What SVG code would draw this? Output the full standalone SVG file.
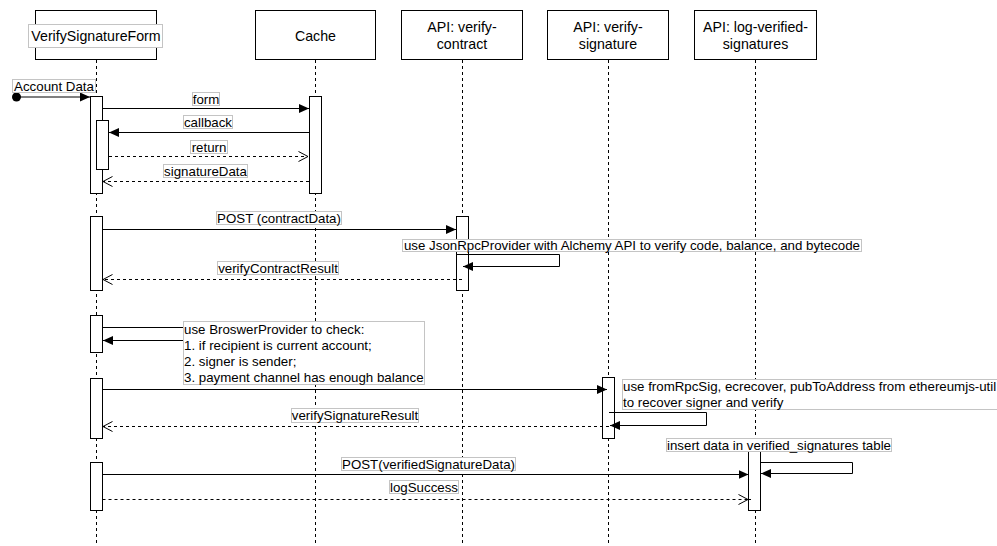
<svg xmlns="http://www.w3.org/2000/svg" width="997" height="546" viewBox="0 0 997 546">
<style>
.hdr{fill:#fff;stroke:#000;stroke-width:1}
.life{stroke:#000;stroke-width:1;stroke-dasharray:3,3;fill:none}
.act{fill:#fff;stroke:#000;stroke-width:1}
.msg{stroke:#000;stroke-width:1;fill:none}
.ret{stroke:#000;stroke-width:1;fill:none;stroke-dasharray:3,3}
.lblbg{fill:#fff;stroke:#c4c4c4;stroke-width:1}
text{font-family:"Liberation Sans",Arial,Helvetica,sans-serif;fill:#000}
.ht{font-size:14.2px;text-anchor:middle}
.lt{font-size:13.3px;text-anchor:middle}
.ll{font-size:13.3px;text-anchor:start}
</style>
<defs>
<marker id="block" viewBox="0 0 10 9" refX="10" refY="4.5" markerWidth="10" markerHeight="9" markerUnits="userSpaceOnUse" orient="auto">
<path d="M0,0 L10,4.5 L0,9 z" fill="#000"/>
</marker>
<marker id="open" viewBox="0 0 11 11" refX="10" refY="5.5" markerWidth="11" markerHeight="11" markerUnits="userSpaceOnUse" orient="auto">
<path d="M0.5,0.5 L10,5.5 L0.5,10.5" fill="none" stroke="#000" stroke-width="1" stroke-dasharray="none"/>
</marker>
</defs>
<rect width="997" height="546" fill="#fff"/>

<g id="lifeline-form">
<line class="life" x1="96.5" y1="60" x2="96.5" y2="546"/>
<rect class="hdr" x="35.5" y="10.5" width="121" height="49"/>
<rect class="lblbg" x="28.5" y="24.5" width="134" height="23"/>
<text class="ht" x="96" y="40.5">VerifySignatureForm</text>
</g>
<g id="lifeline-cache">
<line class="life" x1="315.5" y1="60" x2="315.5" y2="546"/>
<rect class="hdr" x="255.5" y="10.5" width="120" height="49"/>
<text class="ht" x="315.5" y="40.5">Cache</text>
</g>
<g id="lifeline-verify-contract">
<line class="life" x1="462.5" y1="60" x2="462.5" y2="546"/>
<rect class="hdr" x="401.5" y="10.5" width="121" height="49"/>
<text class="ht" x="462" y="31.5">API: verify-</text>
<text class="ht" x="462" y="49">contract</text>
</g>
<g id="lifeline-verify-signature">
<line class="life" x1="608.5" y1="60" x2="608.5" y2="546"/>
<rect class="hdr" x="547.5" y="10.5" width="121" height="49"/>
<text class="ht" x="608" y="31.5">API: verify-</text>
<text class="ht" x="608" y="49">signature</text>
</g>
<g id="lifeline-log">
<line class="life" x1="755.5" y1="60" x2="755.5" y2="546"/>
<rect class="hdr" x="694.5" y="10.5" width="122" height="49"/>
<text class="ht" x="755.5" y="31.5">API: log-verified-</text>
<text class="ht" x="755.5" y="49">signatures</text>
</g>

<g id="activations">
<rect class="act" x="90.5" y="96.5" width="12" height="97"/>
<rect class="act" x="96.5" y="120.5" width="12" height="49"/>
<rect class="act" x="309.5" y="96.5" width="12" height="97"/>
<rect class="act" x="90.5" y="216.5" width="12" height="74"/>
<rect class="act" x="456.5" y="216.5" width="12" height="74"/>
<rect class="act" x="90.5" y="315.5" width="12" height="37"/>
<rect class="act" x="90.5" y="378.5" width="12" height="60"/>
<rect class="act" x="602.5" y="377.5" width="12" height="61"/>
<rect class="act" x="90.5" y="462.5" width="12" height="48"/>
<rect class="act" x="748.5" y="449.5" width="12" height="61"/>
</g>

<g id="connectors">
<circle cx="16.5" cy="97" r="4.5" fill="#000"/>
<line class="msg" x1="17" y1="97" x2="90" y2="97" marker-end="url(#block)"/>
<line class="msg" x1="102.5" y1="108.5" x2="309" y2="108.5" marker-end="url(#block)"/>
<line class="msg" x1="309" y1="132.5" x2="109" y2="132.5" marker-end="url(#block)"/>
<line class="ret" x1="109" y1="156.5" x2="308" y2="156.5" marker-end="url(#open)"/>
<line class="ret" x1="309" y1="181.5" x2="103" y2="181.5" marker-end="url(#open)"/>
<line class="msg" x1="102.5" y1="229.5" x2="456" y2="229.5" marker-end="url(#block)"/>
<path class="msg" d="M457,254.5 H559.5 V266.5 H463" marker-end="url(#block)"/>
<line class="ret" x1="462" y1="279.5" x2="103" y2="279.5" marker-end="url(#open)"/>
<path class="msg" d="M102.5,327.5 H200.5 V340.5 H103" marker-end="url(#block)"/>
<line class="msg" x1="102.5" y1="389.5" x2="607" y2="389.5" marker-end="url(#block)"/>
<path class="msg" d="M609,412.5 H706.5 V425.5 H610" marker-end="url(#block)"/>
<line class="ret" x1="609" y1="426.5" x2="103" y2="426.5" marker-end="url(#open)"/>
<line class="msg" x1="102.5" y1="474.5" x2="748.5" y2="474.5" marker-end="url(#block)"/>
<path class="msg" d="M760.5,462.5 H852.5 V473.5 H761" marker-end="url(#block)"/>
<line class="ret" x1="102.5" y1="499.5" x2="748" y2="499.5" marker-end="url(#open)"/>
<line class="ret" x1="748" y1="499.5" x2="754" y2="499.5"/>
</g>

<g id="labels">
<rect class="lblbg" x="12.5" y="79.5" width="83" height="13"/>
<text class="lt" x="54" y="90.5">Account Data</text>
<rect class="lblbg" x="192.5" y="92.5" width="27" height="13"/>
<text class="lt" x="206" y="103.5">form</text>
<rect class="lblbg" x="183.5" y="115.5" width="49" height="13"/>
<text class="lt" x="208" y="126.5">callback</text>
<rect class="lblbg" x="190.5" y="140.5" width="37" height="13"/>
<text class="lt" x="209" y="151.5">return</text>
<rect class="lblbg" x="163.5" y="164.5" width="84" height="13"/>
<text class="lt" x="205.5" y="175.5">signatureData</text>
<rect class="lblbg" x="216.5" y="211.5" width="125" height="13"/>
<text class="lt" x="279" y="222.5">POST (contractData)</text>
<rect class="lblbg" x="402.5" y="239.5" width="459" height="12"/>
<text class="lt" x="632" y="250">use JsonRpcProvider with Alchemy API to verify code, balance, and bytecode</text>
<rect class="lblbg" x="217.5" y="261.5" width="121" height="13"/>
<text class="lt" x="278" y="272.5">verifyContractResult</text>
<rect class="lblbg" x="183.5" y="321.5" width="241" height="63"/>
<text class="ll" x="184" y="333.5">use BroswerProvider to check:</text>
<text class="ll" x="184" y="349.5">1. if recipient is current account;</text>
<text class="ll" x="184" y="365.5">2. signer is sender;</text>
<text class="ll" x="184" y="381.5">3. payment channel has enough balance</text>
<rect class="lblbg" x="622.5" y="379.5" width="390" height="30"/>
<text class="ll" x="623" y="391">use fromRpcSig, ecrecover, pubToAddress from ethereumjs-util</text>
<text class="ll" x="623" y="407">to recover signer and verify</text>
<rect class="lblbg" x="291.5" y="408.5" width="127" height="14"/>
<text class="lt" x="355" y="420">verifySignatureResult</text>
<rect class="lblbg" x="666.5" y="438.5" width="225" height="13"/>
<text class="lt" x="779" y="449.5">insert data in verified_signatures table</text>
<rect class="lblbg" x="341.5" y="457.5" width="174" height="13"/>
<text class="lt" x="428.5" y="468.5">POST(verifiedSignatureData)</text>
<rect class="lblbg" x="389.5" y="480.5" width="69" height="13"/>
<text class="lt" x="424" y="491.5">logSuccess</text>
</g>
</svg>
